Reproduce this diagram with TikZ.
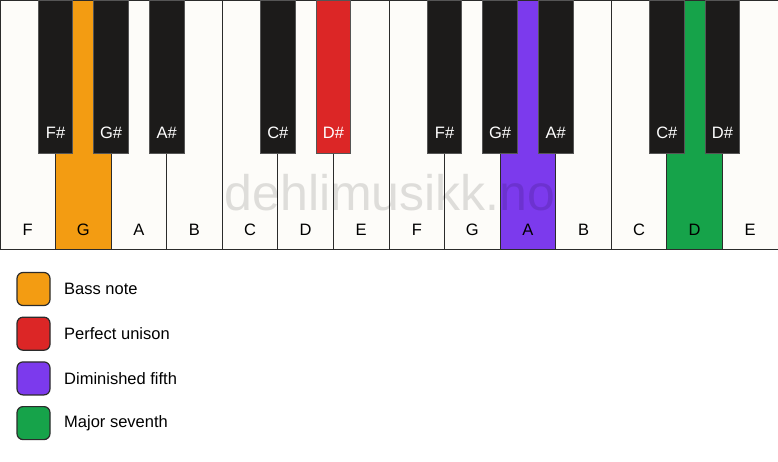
\documentclass[tikz,border=0pt]{standalone}
\usepackage{fontspec}
\setmainfont{Liberation Sans}
\definecolor{bass}{HTML}{F39C12}
\definecolor{unison}{HTML}{DC2626}
\definecolor{dimfifth}{HTML}{7C3AED}
\definecolor{majseventh}{HTML}{16A34A}
\definecolor{ivorykey}{HTML}{FDFCF9}
\definecolor{ebonykey}{HTML}{1C1B1A}
\definecolor{keyline}{HTML}{2B2B2B}
\tikzset{
  keylabel/.style={font=\fontsize{16.5}{19}\selectfont, text=black},
  sharplabel/.style={font=\fontsize{16.5}{19}\selectfont, text=white},
  swatch/.style={draw=keyline, line width=1.2pt, rounded corners=6pt},
  legendtext/.style={anchor=west, font=\fontsize{16.5}{19}\selectfont}
}
\begin{document}
\begin{tikzpicture}[x=1pt, y=-1pt]
  \useasboundingbox (0,0) rectangle (778,461);
  \def\w{55.571}
  % white keys
  \foreach \n/\c [count=\i from 0] in {F/ivorykey,G/bass,A/ivorykey,B/ivorykey,C/ivorykey,D/ivorykey,E/ivorykey,F/ivorykey,G/ivorykey,A/dimfifth,B/ivorykey,C/ivorykey,D/majseventh,E/ivorykey} {
    \filldraw [fill=\c, draw=keyline, line width=1pt] (\i*\w,0.5) rectangle ++(\w,248.5);
    \node [keylabel] (white\i) at (\i*\w+0.5*\w,230) {\n};
  }
  % watermark
  \node [font=\fontsize{50}{57}\selectfont, text=black, text opacity=0.12] (mark) at (390,193) {dehlimusikk.no};
  % black keys
  \foreach \b/\n/\c in {1/F/ebonykey,2/G/ebonykey,3/A/ebonykey,5/C/ebonykey,6/D/unison,8/F/ebonykey,9/G/ebonykey,10/A/ebonykey,12/C/ebonykey,13/D/ebonykey} {
    \filldraw [fill=\c, draw=keyline!80, line width=0.8pt] (\b*\w-17.3,0) rectangle ++(34.6,153);
    \node [sharplabel] (black\b) at (\b*\w,133) {\n\#};
  }
  % legend
  \foreach \c/\t [count=\k from 0] in {bass/Bass note,unison/Perfect unison,dimfifth/Diminished fifth,majseventh/Major seventh} {
    \filldraw [swatch, fill=\c] (17,272.5+\k*44.7) rectangle ++(33,33);
    \node [legendtext] (legend\k) at (60.7,289+\k*44.7) {\t};
  }
\end{tikzpicture}
\end{document}
